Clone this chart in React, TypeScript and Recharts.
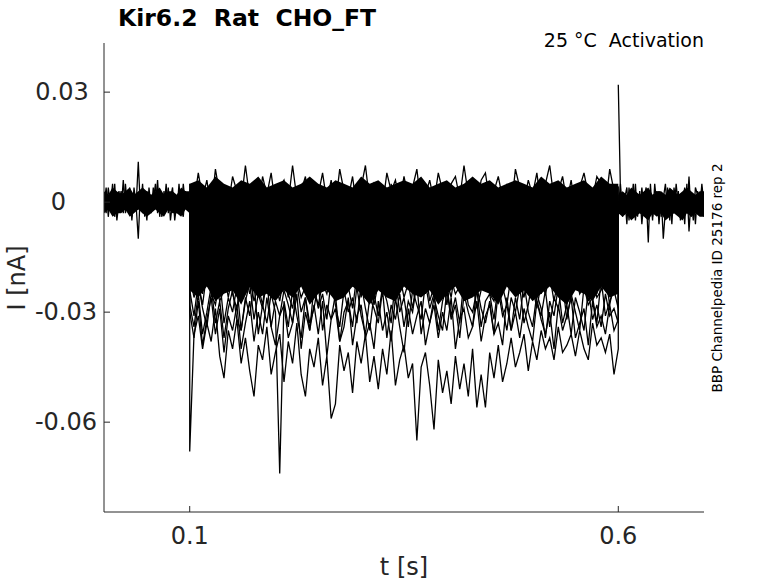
import { ComposedChart, Line, Area, XAxis, YAxis } from "recharts";

// current in pA, time in s
const preTimes = [0,0.0025,0.005,0.0075,0.01,0.0125,0.015,0.0175,0.02,0.0225,0.025,0.0275,0.03,0.0325,0.035,0.0375,0.04,0.0425,0.045,0.0475,0.05,0.0525,0.055,0.0575,0.06,0.0625,0.065,0.0675,0.07,0.0725,0.075,0.0775,0.08,0.0825,0.085,0.0875,0.09,0.0925,0.095,0.0975,0.1];
const postTimes = [0.6,0.6025,0.605,0.6075,0.61,0.6125,0.615,0.6175,0.62,0.6225,0.625,0.6275,0.63,0.6325,0.635,0.6375,0.64,0.6425,0.645,0.6475,0.65,0.6525,0.655,0.6575,0.66,0.6625,0.665,0.6675,0.67,0.6725,0.675,0.6775,0.68,0.6825,0.685,0.6875,0.69,0.6925,0.695,0.6975,0.7];
const stepTimes = [0.1,0.105,0.11,0.115,0.12,0.125,0.13,0.135,0.14,0.145,0.15,0.155,0.16,0.165,0.17,0.175,0.18,0.185,0.19,0.195,0.2,0.205,0.21,0.215,0.22,0.225,0.23,0.235,0.24,0.245,0.25,0.255,0.26,0.265,0.27,0.275,0.28,0.285,0.29,0.295,0.3,0.305,0.31,0.315,0.32,0.325,0.33,0.335,0.34,0.345,0.35,0.355,0.36,0.365,0.37,0.375,0.38,0.385,0.39,0.395,0.4,0.405,0.41,0.415,0.42,0.425,0.43,0.435,0.44,0.445,0.45,0.455,0.46,0.465,0.47,0.475,0.48,0.485,0.49,0.495,0.5,0.505,0.51,0.515,0.52,0.525,0.53,0.535,0.54,0.545,0.55,0.555,0.56,0.565,0.57,0.575,0.58,0.585,0.59,0.595,0.6];

// envelope of the densely overlapping sweeps (where the traces merge into solid black)
const preCoreTimes = [0,0.005,0.01,0.015,0.02,0.025,0.03,0.035,0.04,0.045,0.05,0.055,0.06,0.065,0.07,0.075,0.08,0.085,0.09,0.095,0.1];
const preHigh = [3,2,4,3,2,3,4,2,3,4,3,2,3,4,2,3,3,2,4,3,3];
const preLow = [-3,-2,-4,-3,-3,-2,-4,-3,-2,-3,-4,-3,-2,-3,-4,-2,-3,-3,-4,-2,-3];
const coreTimes = [0.1,0.11,0.12,0.13,0.14,0.15,0.16,0.17,0.18,0.19,0.2,0.21,0.22,0.23,0.24,0.25,0.26,0.27,0.28,0.29,0.3,0.31,0.32,0.33,0.34,0.35,0.36,0.37,0.38,0.39,0.4,0.41,0.42,0.43,0.44,0.45,0.46,0.47,0.48,0.49,0.5,0.51,0.52,0.53,0.54,0.55,0.56,0.57,0.58,0.59,0.6];
const coreHigh = [5,6,4,7,5,4,6,5,7,4,5,6,4,5,7,5,4,6,5,4,7,5,6,4,5,6,5,7,4,5,6,4,5,7,5,6,4,5,6,5,4,7,5,6,4,5,6,4,7,5,5];
const coreLow = [-24,-26,-23,-27,-25,-24,-28,-23,-26,-25,-27,-24,-26,-23,-28,-25,-24,-27,-26,-23,-25,-28,-24,-26,-27,-23,-25,-26,-24,-28,-25,-23,-27,-26,-24,-25,-28,-23,-26,-24,-27,-25,-23,-26,-28,-24,-25,-27,-23,-26,-25];
const postCoreTimes = [0.6,0.605,0.61,0.615,0.62,0.625,0.63,0.635,0.64,0.645,0.65,0.655,0.66,0.665,0.67,0.675,0.68,0.685,0.69,0.695,0.7];
const postHigh = [2,3,2,4,3,2,3,4,2,3,3,2,4,3,2,3,4,3,2,3,3];
const postLow = [-3,-4,-3,-5,-4,-3,-4,-5,-3,-4,-3,-5,-4,-3,-4,-5,-3,-4,-3,-4,-4];

const preA = [2,-3,4,-1,5,-4,1,3,-2,6,-3,0,4,-5,2,-1,11,-2,5,-4,3,0,-3,4,-1,6,-4,2,-2,5,-3,1,4,-5,0,3,-2,5,-1,2,-3];
const preB = [-1,4,-4,2,-2,5,-5,0,3,-3,5,-2,1,-4,4,-1,-10,3,-3,1,-5,4,-2,0,5,-3,2,-4,3,-1,4,-5,0,2,-3,5,-2,-4,3,-1,1];
const postA = [32,3,-4,2,-6,4,-1,5,-5,1,-3,4,-2,2,-11,5,-4,0,3,-6,2,-10,-2,4,-5,3,-3,5,-1,-4,2,-6,5,-8,1,-5,4,2,-3,4,-4];
const postB = [-2,5,-3,1,4,-5,2,-2,5,-4,3,-6,1,4,-3,2,-5,5,-1,3,-4,1,5,-3,2,-6,4,-1,3,-5,0,4,-3,7,-4,2,-6,3,-2,5,-1];

const sweep1 = [5,0,8,1,6,-2,9,2,4,-1,7,3,0,10,1,5,-2,7,2,8,-1,4,6,0,10,1,3,7,-2,5,2,8,0,6,-1,9,3,1,7,-2,4,10,0,5,2,-1,8,3,6,0,7,1,4,9,-1,2,6,0,8,3,-2,5,7,1,10,2,4,-1,6,8,0,3,7,1,5,-2,9,4,0,6,2,8,-1,5,10,1,3,7,0,6,-2,4,8,2,1,7,5,-1,9,3,4];
const sweep2 = [-4,1,-6,2,-1,-5,3,-3,0,-7,1,-2,4,-5,-1,2,-6,0,3,-4,-1,5,-3,-6,1,-2,4,-5,-1,2,-7,0,3,-3,1,-5,-2,4,-4,0,2,-6,-1,3,-3,0,-5,5,-2,-4,1,-1,-6,2,-3,4,-2,-5,0,3,-4,1,-2,-6,2,0,-3,5,-1,-5,3,-2,-4,1,-6,2,0,-3,4,-1,-5,1,-2,3,-4,0,-6,2,-1,4,-3,-5,1,-2,3,-4,0,2,-6,1,-2];
const sweep3 = [-2,-8,-4,-1,-9,-5,-3,-7,0,-6,-10,-3,-5,-1,-8,-4,-2,-9,-6,-3,0,-7,-4,-10,-2,-6,-3,-8,-1,-5,-9,-4,-2,-7,-5,0,-8,-3,-6,-1,-10,-5,-3,-8,-2,-6,-4,-9,-1,-7,-3,-5,-10,-2,-6,-4,-8,0,-5,-3,-9,-1,-6,-4,-7,-2,-10,-5,-3,-8,-1,-6,-4,-9,-2,-5,-7,-3,0,-8,-5,-2,-10,-4,-6,-1,-7,-3,-9,-5,-2,-8,-4,-6,-1,-9,-3,-5,-7,-2,-6];
const sweep4 = [-11,-5,-9,-13,-6,-10,-4,-12,-8,-7,-13,-9,-5,-11,-7,-14,-6,-10,-3,-9,-12,-6,-8,-13,-5,-10,-7,-11,-4,-9,-14,-7,-10,-5,-12,-8,-6,-13,-9,-4,-11,-7,-13,-6,-9,-12,-5,-10,-8,-14,-6,-11,-4,-9,-13,-7,-10,-5,-12,-8,-3,-10,-7,-13,-6,-11,-9,-5,-12,-8,-10,-4,-13,-7,-9,-11,-6,-14,-8,-5,-12,-7,-10,-4,-13,-8,-6,-11,-9,-5,-13,-6,-10,-8,-4,-12,-7,-11,-5,-9,-8];
const sweep5 = [-8,-14,-10,-16,-7,-12,-9,-15,-11,-6,-13,-17,-9,-12,-8,-14,-10,-16,-7,-13,-11,-15,-8,-12,-17,-9,-14,-10,-6,-13,-16,-10,-12,-7,-15,-9,-13,-11,-17,-8,-12,-14,-9,-16,-10,-7,-13,-11,-15,-8,-14,-10,-17,-9,-12,-6,-15,-11,-13,-8,-16,-9,-13,-11,-7,-14,-10,-17,-12,-8,-13,-15,-9,-11,-16,-8,-12,-10,-14,-7,-11,-17,-10,-13,-8,-15,-9,-12,-16,-10,-7,-13,-11,-15,-9,-14,-12,-8,-16,-10,-11];
const sweep6 = [-17,-11,-15,-19,-12,-16,-10,-18,-13,-20,-14,-9,-17,-12,-19,-15,-11,-16,-13,-18,-10,-16,-14,-20,-12,-17,-11,-15,-19,-13,-16,-10,-18,-14,-12,-19,-15,-11,-17,-13,-20,-12,-15,-9,-17,-14,-18,-11,-16,-13,-11,-18,-14,-16,-10,-19,-13,-15,-12,-17,-15,-20,-12,-16,-14,-10,-18,-13,-17,-11,-19,-13,-16,-11,-15,-18,-12,-17,-14,-10,-16,-12,-19,-14,-11,-17,-15,-13,-20,-12,-14,-18,-11,-16,-13,-19,-10,-15,-17,-12,-14];
const sweep7 = [-14,-20,-16,-22,-13,-19,-15,-21,-12,-18,-23,-16,-19,-13,-21,-17,-14,-22,-18,-15,-20,-13,-18,-23,-15,-19,-12,-21,-17,-16,-22,-14,-19,-16,-24,-13,-18,-20,-15,-21,-17,-13,-22,-16,-19,-14,-21,-18,-12,-20,-15,-23,-17,-19,-13,-21,-16,-18,-22,-14,-19,-15,-21,-12,-18,-20,-16,-23,-14,-17,-21,-13,-18,-16,-22,-15,-19,-14,-20,-17,-13,-22,-16,-19,-15,-21,-18,-12,-20,-16,-23,-17,-14,-20,-16,-19,-13,-21,-18,-15,-17];
const sweep8 = [-23,-17,-21,-25,-18,-22,-16,-24,-19,-26,-20,-15,-23,-18,-25,-21,-17,-22,-19,-24,-16,-22,-20,-26,-18,-23,-17,-21,-25,-19,-22,-16,-24,-20,-18,-25,-21,-17,-23,-19,-26,-18,-21,-15,-23,-20,-24,-17,-22,-19,-17,-24,-20,-22,-16,-25,-19,-21,-18,-23,-21,-26,-18,-22,-20,-16,-24,-19,-23,-17,-25,-19,-22,-17,-21,-24,-18,-23,-20,-16,-22,-18,-25,-20,-17,-23,-21,-19,-26,-18,-20,-24,-17,-22,-19,-25,-16,-21,-23,-18,-20];
const sweep9 = [-20,-26,-22,-28,-19,-25,-21,-27,-24,-18,-25,-29,-21,-24,-20,-27,-23,-28,-19,-26,-22,-27,-20,-25,-29,-21,-26,-23,-18,-24,-28,-22,-25,-19,-27,-21,-24,-23,-29,-20,-24,-26,-21,-28,-22,-19,-25,-23,-27,-20,-26,-22,-29,-21,-24,-18,-27,-23,-25,-20,-28,-21,-25,-23,-19,-26,-22,-29,-24,-20,-25,-27,-21,-23,-28,-20,-24,-22,-26,-19,-23,-29,-22,-25,-20,-27,-21,-24,-28,-22,-19,-25,-23,-27,-21,-26,-24,-20,-28,-22,-23];
const sweep10 = [-24,-31,-22,-29,-34,-25,-28,-21,-33,-26,-30,-23,-35,-27,-22,-32,-25,-29,-21,-34,-27,-31,-24,-28,-33,-22,-30,-26,-35,-23,-29,-25,-32,-21,-28,-34,-24,-30,-26,-33,-22,-29,-35,-25,-31,-23,-27,-33,-21,-30,-26,-34,-24,-28,-32,-22,-29,-25,-35,-27,-23,-31,-26,-33,-21,-28,-30,-24,-34,-27,-25,-32,-22,-29,-35,-26,-30,-23,-33,-28,-21,-27,-31,-24,-34,-26,-29,-22,-32,-25,-30,-35,-23,-28,-26,-33,-21,-31,-27,-24,-29];
const sweep11 = [-28,-34,-25,-36,-30,-23,-33,-27,-37,-29,-24,-32,-35,-26,-31,-22,-36,-28,-33,-25,-30,-74,-27,-34,-24,-31,-37,-26,-33,-29,-22,-35,-28,-32,-25,-38,-30,-27,-34,-23,-31,-36,-26,-29,-33,-24,-37,-28,-32,-25,-34,-27,-30,-22,-36,-29,-33,-26,-31,-35,-24,-32,-28,-37,-25,-30,-34,-23,-29,-33,-27,-36,-24,-31,-28,-35,-26,-32,-22,-30,-34,-25,-29,-37,-27,-31,-23,-33,-28,-36,-26,-30,-35,-24,-32,-28,-34,-25,-31,-29,-33];
const sweep12 = [-30,-37,-27,-39,-32,-26,-36,-29,-41,-31,-35,-28,-40,-33,-27,-38,-30,-36,-26,-34,-39,-31,-28,-37,-33,-25,-40,-30,-35,-28,-36,-27,-42,-32,-29,-38,-34,-26,-39,-31,-28,-37,-33,-40,-27,-35,-30,-38,-26,-34,-41,-29,-36,-31,-27,-39,-33,-28,-37,-30,-35,-26,-40,-32,-29,-37,-34,-27,-38,-31,-28,-36,-33,-39,-26,-35,-30,-37,-29,-34,-38,-27,-32,-36,-30,-40,-28,-35,-31,-26,-37,-33,-29,-39,-27,-34,-31,-36,-28,-35,-32];
const sweep13 = [-68,-36,-31,-40,-33,-38,-29,-42,-48,-35,-40,-32,-44,-37,-46,-53,-39,-43,-34,-47,-41,-36,-49,-38,-44,-33,-47,-53,-40,-45,-37,-50,-42,-59,-55,-39,-46,-41,-52,-38,-44,-36,-49,-42,-51,-40,-47,-35,-50,-43,-39,-48,-44,-65,-45,-41,-50,-62,-43,-52,-46,-55,-42,-51,-44,-53,-40,-56,-47,-56,-41,-48,-39,-49,-44,-37,-45,-41,-36,-46,-38,-43,-35,-40,-37,-43,-34,-41,-39,-36,-42,-35,-40,-43,-33,-39,-37,-41,-36,-47,-40];

const sweeps = [sweep1, sweep2, sweep3, sweep4, sweep5, sweep6, sweep7, sweep8, sweep9, sweep10, sweep11, sweep12, sweep13];
const yTicks = [-60, -30, 0, 30];
const xTicks = [0.1, 0.6];
const holdLevel = 0;

const PLOT = { left: 104, top: 43, right: 704, bottom: 512 };
const axisColor = "#262626";
const font = "DejaVu Sans";
const lineWidth = 1.3;

const toPoints = (times: number[], values: number[]) =>
  times.map((t, i) => ({ t, v: values[i] }));

const sweepPoints = (values: number[]) => [
  { t: stepTimes[0], v: holdLevel },
  ...toPoints(stepTimes, values),
  { t: stepTimes[stepTimes.length - 1], v: holdLevel },
];

const bandRows = (key: string, times: number[], low: number[], high: number[]) =>
  times.map((t, i) => ({ t, [key]: [low[i], high[i]] }));

const envelopeData = [
  ...bandRows("pre", preCoreTimes, preLow, preHigh),
  ...bandRows("core", coreTimes, coreLow, coreHigh),
  ...bandRows("post", postCoreTimes, postLow, postHigh),
];

// the y tick labels in the original sit at slightly different centres
const yLabelCenter: Record<number, number> = { 30: 62, 0: 58.5, "-30": 66, "-60": 66 };

const YTick = (props: any) => {
  const { y, payload } = props;
  return (
    <g>
      <line x1={PLOT.left} x2={PLOT.left + 6} y1={y} y2={y} stroke={axisColor} />
      <text x={yLabelCenter[payload.value]} y={y} textAnchor="middle" dominantBaseline="central"
        fontSize={24} fontFamily={font} fill={axisColor}>
        {String(payload.value / 1000)}
      </text>
    </g>
  );
};

const XTick = (props: any) => {
  const { x, payload } = props;
  return (
    <g>
      <line x1={x} x2={x} y1={PLOT.bottom} y2={PLOT.bottom - 6} stroke={axisColor} />
      <text x={x} y={536} textAnchor="middle" dominantBaseline="central"
        fontSize={24} fontFamily={font} fill={axisColor}>
        {String(payload.value)}
      </text>
    </g>
  );
};

const trace = (data: { t: number; v: number }[], key: string) => (
  <Line key={key} data={data} dataKey="v" type="linear" stroke="#000" strokeWidth={lineWidth}
    dot={false} activeDot={false} isAnimationActive={false} />
);

export default function App() {
  return (
    <div style={{ position: "absolute", left: 0, top: 0, width: 778, height: 583, background: "#fff" }}>
      <ComposedChart width={778} height={583} data={envelopeData}
        margin={{ top: PLOT.top, right: 778 - PLOT.right, bottom: 583 - PLOT.bottom - 1, left: PLOT.left - 1 }}>
        <XAxis type="number" dataKey="t" domain={[0, 0.7]} ticks={xTicks} interval={0}
          height={1} tickLine={false} tick={<XTick />} axisLine={{ stroke: axisColor }} allowDataOverflow />
        <YAxis type="number" domain={[-84.5, 43.4]} ticks={yTicks} interval={0}
          width={1} tickLine={false} tick={<YTick />} axisLine={{ stroke: axisColor }} allowDataOverflow />
        <Area dataKey="pre" type="linear" fill="#000" fillOpacity={1} stroke="none" isAnimationActive={false} />
        <Area dataKey="core" type="linear" fill="#000" fillOpacity={1} stroke="none" isAnimationActive={false} />
        <Area dataKey="post" type="linear" fill="#000" fillOpacity={1} stroke="none" isAnimationActive={false} />
        {trace(toPoints(preTimes, preA), "preA")}
        {trace(toPoints(preTimes, preB), "preB")}
        {sweeps.map((s, i) => trace(sweepPoints(s), "s" + i))}
        {trace(toPoints(postTimes, postA), "postA")}
        {trace(toPoints(postTimes, postB), "postB")}
      </ComposedChart>
      <svg width={778} height={583} style={{ position: "absolute", left: 0, top: 0, pointerEvents: "none" }}>
        <text x={118} y={18} dominantBaseline="central" fontSize={23.5} fontWeight="bold" fontFamily={font}
          fill="#000" style={{ whiteSpace: "pre" }}>{"Kir6.2  Rat  CHO_FT"}</text>
        <text x={704} y={40} textAnchor="end" dominantBaseline="central" fontSize={19} fontFamily={font}
          fill="#000" style={{ whiteSpace: "pre" }}>{"25 °C  Activation"}</text>
        <text transform="translate(717,278) rotate(-90)" textAnchor="middle" dominantBaseline="central"
          fontSize={13.5} fontFamily={font} fill="#000">BBP Channelpedia ID 25176 rep 2</text>
        <text x={404} y={567} textAnchor="middle" dominantBaseline="central" fontSize={24} fontFamily={font}
          fill={axisColor}>t [s]</text>
        <text transform="translate(17,278) rotate(-90)" textAnchor="middle" dominantBaseline="central"
          fontSize={24} fontFamily={font} fill={axisColor}>I [nA]</text>
      </svg>
    </div>
  );
}
